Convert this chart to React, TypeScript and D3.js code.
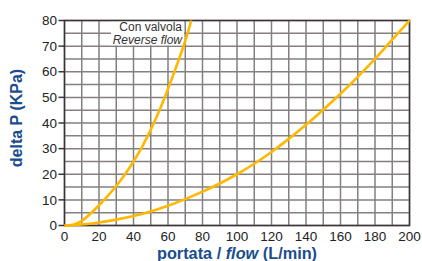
import React from "react";
import * as d3 from "d3";

const xTicks = [0, 20, 40, 60, 80, 100, 120, 140, 160, 180, 200];
const yTicks = [0, 10, 20, 30, 40, 50, 60, 70, 80];

const valveFlow = [0, 5, 10, 15, 20, 25, 30, 35, 40, 45, 50, 55, 60, 65, 70, 73.5];
const valvePressure = [0, 0.3, 1.8, 4.6, 7.9, 11.5, 15.4, 19.9, 25, 30.7, 37.4, 44.9, 53.3, 62.4, 72, 80];

const mainFlow = [0, 10, 20, 30, 40, 50, 60, 70, 80, 90, 100, 110, 120, 130, 140, 150, 160, 170, 180, 190, 200];
const mainPressure = [0, 0.4, 1.2, 2.3, 3.7, 5.5, 7.7, 10.3, 13.2, 16.4, 20, 24.1, 28.7, 33.8, 39.3, 45.2, 51.4, 58, 65, 72.5, 80];

const labelLine1 = "Con valvola";
const labelLine2 = "Reverse flow";

export default function App() {
  const W = 422, H = 261;
  const x = d3.scaleLinear().domain([0, 200]).range([64.5, 409.5]);
  const y = d3.scaleLinear().domain([0, 80]).range([225.5, 20.5]);
  const line = d3
    .line<[number, number]>()
    .x((d) => x(d[0]))
    .y((d) => y(d[1]))
    .curve(d3.curveCatmullRom.alpha(0.5));
  const valve = valveFlow.map((f, i) => [f, valvePressure[i]] as [number, number]);
  const main = mainFlow.map((f, i) => [f, mainPressure[i]] as [number, number]);
  const vGrid = d3.range(0, 201, 10);
  const hGrid = d3.range(0, 81, 5);
  const font = "'Liberation Sans', Arial, sans-serif";
  const blue = "#1b4d8e";
  const curveColor = "#FFB800";
  return (
    <svg
      width={W}
      height={H}
      style={{ position: "absolute", left: 0, top: 0, background: "#fff" }}
      fontFamily={font}
    >
      <rect x={0} y={0} width={W} height={H} fill="#fff" />
      {vGrid.map((v) => (
        <line key={"v" + v} x1={x(v)} x2={x(v)} y1={y(0)} y2={y(80)} stroke="#857f7f" strokeWidth={1.5} />
      ))}
      {hGrid.map((v) => (
        <line key={"h" + v} x1={x(0)} x2={x(200)} y1={y(v)} y2={y(v)} stroke="#857f7f" strokeWidth={1.5} />
      ))}
      <rect x={111} y={y(80) + 0.8} width={73} height={24} fill="#fff" />
      <text x={182} y={31} fontSize={12} textAnchor="end" fill="#333">{labelLine1}</text>
      <text x={182} y={44} fontSize={12} textAnchor="end" fill="#333" fontStyle="italic">{labelLine2}</text>
      <rect x={x(0)} y={y(80)} width={x(200) - x(0)} height={y(0) - y(80)} fill="none" stroke="#3a3434" strokeWidth={1.5} />
      {yTicks.map((t) => (
        <g key={"yt" + t}>
          <line x1={x(0) - 6} x2={x(0)} y1={y(t)} y2={y(t)} stroke="#3a3434" strokeWidth={1.5} />
          <text x={57} y={y(t)} dy="0.35em" fontSize={13.5} textAnchor="end" fill="#222">{t}</text>
        </g>
      ))}
      {xTicks.map((t) => (
        <text key={"xt" + t} x={x(t)} y={241} fontSize={13.5} textAnchor="middle" fill="#222">{t}</text>
      ))}
      <path d={line(main) || ""} fill="none" stroke={curveColor} strokeWidth={2.6} strokeLinejoin="round" />
      <path d={line(valve) || ""} fill="none" stroke={curveColor} strokeWidth={2.6} strokeLinejoin="round" />
      <text x={237} y={258.5} fontSize={16.3} fontWeight="bold" textAnchor="middle" fill={blue}>
        portata / <tspan fontStyle="italic">flow</tspan> (L/min)
      </text>
      <text
        transform="translate(21.5,118) rotate(-90)"
        fontSize={16}
        fontWeight="bold"
        textAnchor="middle"
        fill={blue}
      >
        delta P (KPa)
      </text>
    </svg>
  );
}
